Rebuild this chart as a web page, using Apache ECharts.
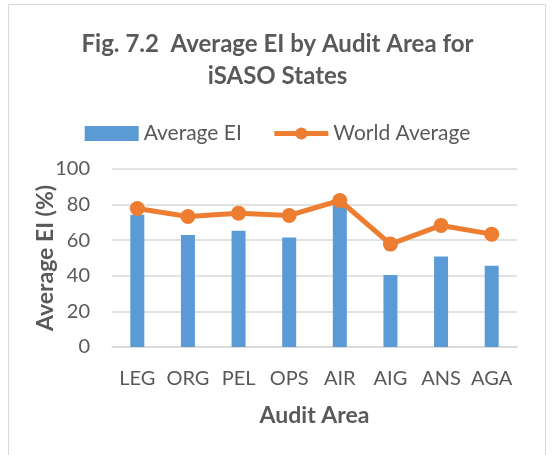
<!DOCTYPE html>
<html>
<head>
<meta charset="utf-8">
<script src="https://cdn.jsdelivr.net/npm/echarts@6/dist/echarts.min.js"></script>
<style>
  html, body { margin: 0; padding: 0; background: #fff; }
  #chart { width: 555px; height: 455px; }
</style>
</head>
<body>
<div id="chart"></div>
<script>
const categories = ['LEG', 'ORG', 'PEL', 'OPS', 'AIR', 'AIG', 'ANS', 'AGA'];
const averageEI = [74.3, 62.9, 65.3, 61.5, 81, 40.5, 50.8, 45.6];
const worldAverage = [77.8, 73.3, 75.2, 73.9, 82.3, 57.8, 68.3, 63.4];

const textColor = '#595959';
const font = 'Lato';

const chart = echarts.init(document.getElementById('chart'));

const option = {
  animation: false,
  textStyle: { fontFamily: font },
  graphic: [
    {
      type: 'rect',
      shape: { x: 8.5, y: 4.5, width: 537, height: 460 },
      style: { fill: 'none', stroke: '#d9d9d9', lineWidth: 1 },
      silent: true,
    },
  ],
  title: {
    text: 'Fig. 7.2  Average EI by Audit Area for\niSASO States',
    left: 'center',
    top: 23,
    textStyle: {
      color: textColor,
      fontFamily: font,
      fontWeight: 'bold',
      fontSize: 24,
      lineHeight: 32,
    },
  },
  legend: {
    top: 118,
    left: 'center',
    itemGap: 30,
    itemWidth: 54,
    itemHeight: 15,
    textStyle: { color: textColor, fontSize: 21, fontFamily: font },
    data: [
      { name: 'Average EI', icon: 'rect' },
      { name: 'World Average', lineStyle: { width: 5 } },
    ],
  },
  grid: {
    left: 112,
    right: 38,
    top: 169,
    bottom: 108,
  },
  xAxis: {
    type: 'category',
    data: categories,
    name: 'Audit Area',
    nameLocation: 'middle',
    nameGap: 57,
    nameTextStyle: { color: textColor, fontSize: 23, fontWeight: 'bold' },
    axisLine: { lineStyle: { color: '#d9d9d9', width: 1.5 } },
    axisTick: { show: false },
    axisLabel: { color: textColor, fontSize: 20, margin: 22, interval: 0 },
  },
  yAxis: {
    type: 'value',
    min: 0,
    max: 100,
    interval: 20,
    name: 'Average EI (%)',
    nameLocation: 'middle',
    nameGap: 55,
    nameMoveOverlap: false,
    nameTextStyle: { color: textColor, fontSize: 23, fontWeight: 'bold' },
    axisLine: { show: false },
    axisTick: { show: false },
    axisLabel: { color: textColor, fontSize: 20, margin: 22 },
    splitLine: { lineStyle: { color: '#d9d9d9', width: 1.5 } },
  },
  series: [
    {
      name: 'Average EI',
      type: 'bar',
      data: averageEI,
      barWidth: 14,
      itemStyle: { color: '#5b9bd5' },
    },
    {
      name: 'World Average',
      type: 'line',
      data: worldAverage,
      symbol: 'circle',
      symbolSize: 15,
      lineStyle: { color: '#ed7d31', width: 5 },
      itemStyle: { color: '#ed7d31' },
    },
  ],
};

chart.setOption(option);
</script>
</body>
</html>
